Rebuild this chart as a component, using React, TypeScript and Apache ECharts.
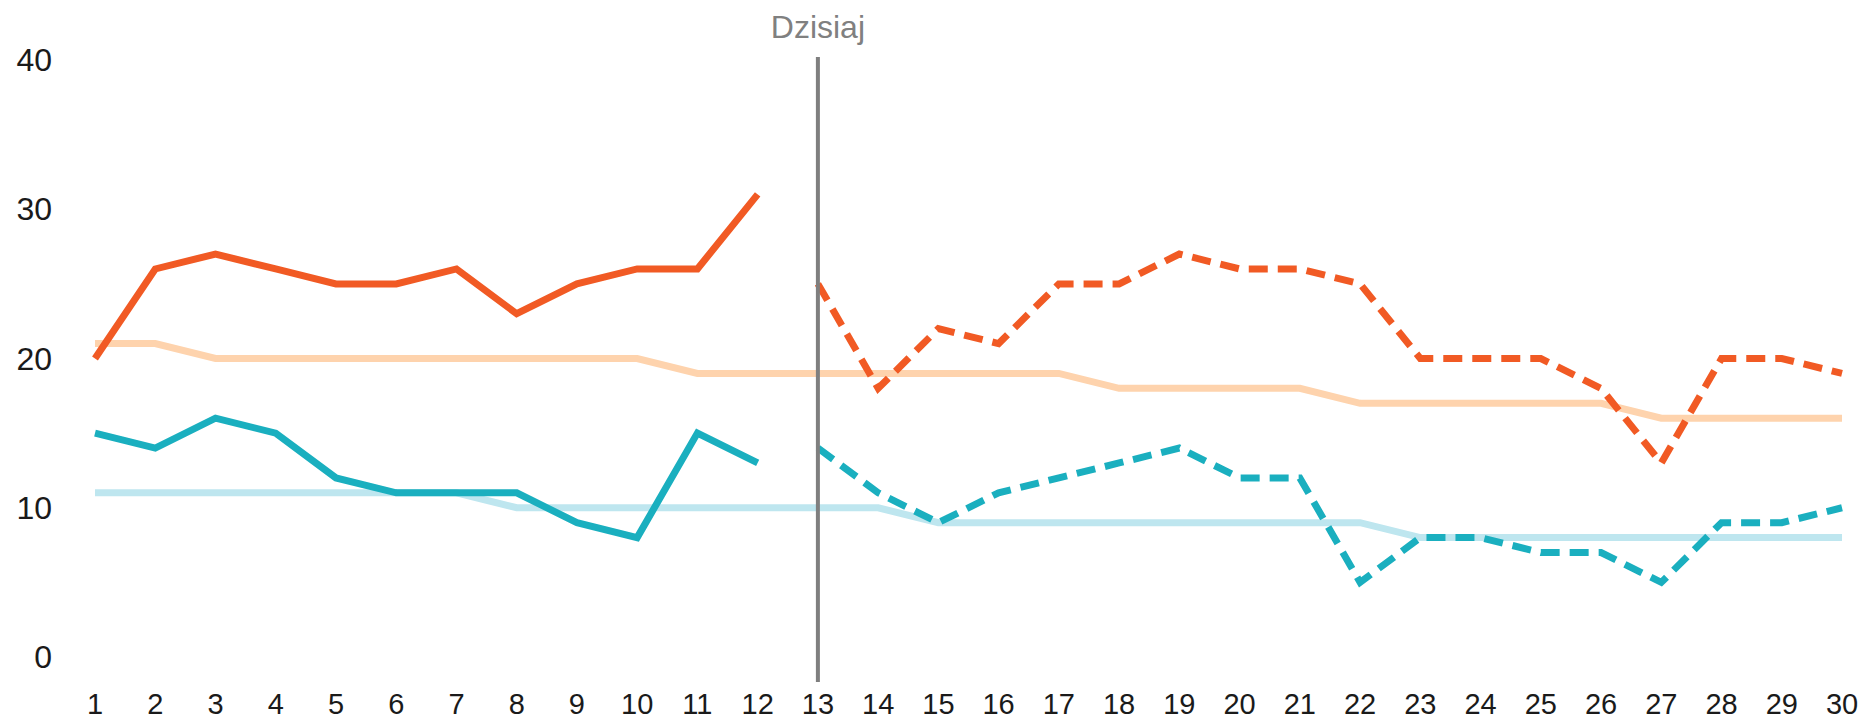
import React, { useEffect, useRef } from "react";
import * as echarts from "echarts";

const days = Array.from({ length: 30 }, (_, i) => String(i + 1));
const actualOrange = [20, 26, 27, 26, 25, 25, 26, 23, 25, 26, 26, 31];
const forecastOrange = [25, 18, 22, 21, 25, 25, 27, 26, 26, 25, 20, 20, 20, 18, 13, 20, 20, 19];
const avgOrange = [21, 21, 20, 20, 20, 20, 20, 20, 20, 20, 19, 19, 19, 19, 19, 19, 19, 18, 18, 18, 18, 17, 17, 17, 17, 17, 16, 16, 16, 16];
const actualTeal = [15, 14, 16, 15, 12, 11, 11, 11, 9, 8, 15, 13];
const forecastTeal = [14, 11, 9, 11, 12, 13, 14, 12, 12, 5, 8, 8, 7, 7, 5, 9, 9, 10];
const avgTeal = [11, 11, 11, 11, 11, 11, 11, 10, 10, 10, 10, 10, 10, 10, 9, 9, 9, 9, 9, 9, 9, 9, 8, 8, 8, 8, 8, 8, 8, 8];
const yTicks = [0, 10, 20, 30, 40];
const todayLabel = "Dzisiaj";
const todayIndex = 12;

const ORANGE = "#F15A24";
const ORANGE_LIGHT = "#FED3AD";
const TEAL = "#1AAFBF";
const TEAL_LIGHT = "#BEE6EF";

const pad = (arr: number[], before: number, total: number) => {
  const out: (number | null)[] = [];
  for (let i = 0; i < before; i++) out.push(null);
  arr.forEach((v) => out.push(v));
  while (out.length < total) out.push(null);
  return out;
};

export default function App() {
  const ref = useRef<HTMLDivElement>(null);
  useEffect(() => {
    document.body.style.margin = "0";
    if (!ref.current) return;
    const chart = echarts.init(ref.current, undefined, { renderer: "svg" });
    const font = "Liberation Sans, Arial, sans-serif";
    const line = (data: (number | null)[], color: string, dashed: boolean, z: number) => ({
      type: "line",
      data,
      showSymbol: false,
      symbol: "none",
      connectNulls: false,
      z,
      lineStyle: {
        color,
        width: 7,
        type: dashed ? [19, 10] : "solid",
        cap: "butt",
        join: "miter",
      },
    });
    chart.setOption({
      animation: false,
      grid: { left: 95, right: 22, top: 60, bottom: 64 },
      xAxis: {
        type: "category",
        data: days,
        boundaryGap: false,
        axisLine: { show: false },
        axisTick: { show: false },
        axisLabel: { color: "#1a1a1a", fontSize: 29, fontFamily: font, margin: 32, interval: 0 },
        splitLine: { show: false },
      },
      yAxis: {
        type: "value",
        min: yTicks[0],
        max: yTicks[yTicks.length - 1],
        interval: 10,
        axisLine: { show: false },
        axisTick: { show: false },
        axisLabel: { color: "#1a1a1a", fontSize: 32, fontFamily: font, margin: 43 },
        splitLine: { show: false },
      },
      series: [
        line(avgOrange, ORANGE_LIGHT, false, 1),
        line(avgTeal, TEAL_LIGHT, false, 1),
        line(pad(actualOrange, 0, 30), ORANGE, false, 3),
        line(pad(forecastOrange, todayIndex, 30), ORANGE, true, 3),
        line(pad(actualTeal, 0, 30), TEAL, false, 3),
        line(pad(forecastTeal, todayIndex, 30), TEAL, true, 3),
      ],
    });
    const x = chart.convertToPixel({ xAxisIndex: 0 }, days[todayIndex]) as number;
    const yTop = chart.convertToPixel({ yAxisIndex: 0 }, yTicks[yTicks.length - 1]) as number;
    const yBottom = chart.convertToPixel({ yAxisIndex: 0 }, yTicks[0]) as number;
    chart.setOption({
      graphic: [
        {
          type: "line",
          shape: { x1: x, y1: yTop - 3, x2: x, y2: yBottom + 25 },
          style: { stroke: "#7f7f7f", lineWidth: 4 },
          z: 10,
        },
        {
          type: "text",
          x,
          y: yTop - 17,
          style: {
            text: todayLabel,
            fill: "#808080",
            font: `32px ${font}`,
            align: "center",
            verticalAlign: "bottom",
          },
          z: 10,
        },
      ],
    });
    return () => chart.dispose();
  }, []);
  return <div ref={ref} style={{ width: 1864, height: 721 }} />;
}
